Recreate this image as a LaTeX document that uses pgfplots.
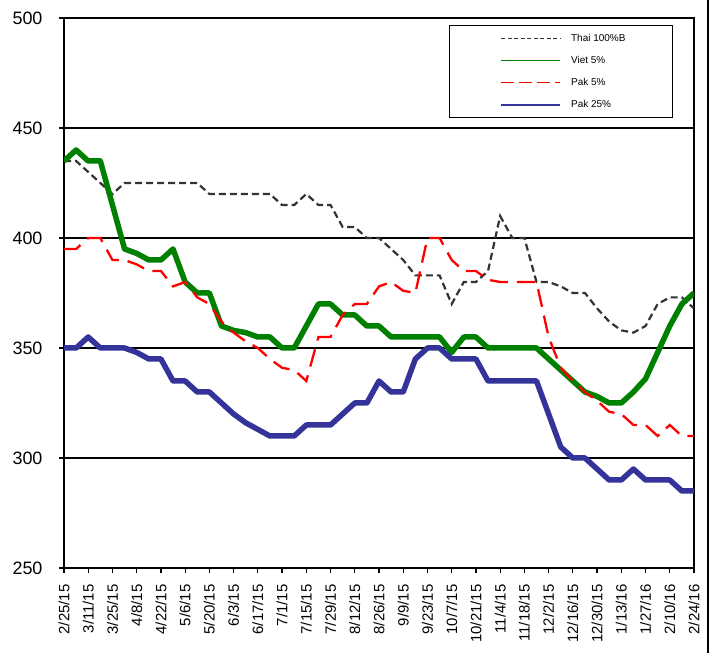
\documentclass[border=0pt]{standalone}
\usepackage{fontspec}
\setmainfont{Liberation Sans}
\usepackage{pgfplots}
\pgfplotsset{compat=1.18}
\usepackage{pgfplotstable}
\definecolor{thaic}{RGB}{51,51,51}
\definecolor{vietc}{RGB}{0,128,0}
\definecolor{pakc}{RGB}{255,0,0}
\definecolor{pakb}{RGB}{51,51,153}

\pgfplotstableread{
i thai viet pak5 pak25
0 435 435 395 350
1 435 440 395 350
2 430 435 400 355
3 425 435 400 350
4 420 415 390 350
5 425 395 390 350
6 425 393 388 348
7 425 390 385 345
8 425 390 385 345
9 425 395 378 335
10 425 380 380 335
11 425 375 373 330
12 420 375 370 330
13 420 360 362 325
14 420 358 357 320
15 420 357 353 316
16 420 355 350 313
17 420 355 345 310
18 415 350 341 310
19 415 350 340 310
20 420 360 335 315
21 415 370 355 315
22 415 370 355 315
23 405 365 365 320
24 405 365 370 325
25 400 360 370 325
26 400 360 378 335
27 395 355 380 330
28 390 355 376 330
29 383 355 375 345
30 383 355 400 350
31 383 355 400 350
32 370 348 390 345
33 380 355 385 345
34 380 355 385 345
35 385 350 381 335
36 410 350 380 335
37 400 350 380 335
38 400 350 380 335
39 380 350 380 335
40 380 345 355 320
41 378 340 341 305
42 375 335 335 300
43 375 330 330 300
44 368 328 326 295
45 362 325 321 290
46 358 325 320 290
47 357 330 315 295
48 360 336 315 290
49 370 348 310 290
50 373 360 315 290
51 373 370 310 285
52 368 375 310 285
}\data

\begin{document}
\begin{tikzpicture}
\useasboundingbox (0,0) rectangle (710bp,653bp);
\begin{axis}[
  at={(64bp,85bp)}, anchor=south west,
  scale only axis, width=630bp, height=550bp,
  xmin=0, xmax=52, ymin=250, ymax=500,
  xtick={0,2,...,52},
  xticklabels={2/25/15,3/11/15,3/25/15,4/8/15,4/22/15,5/6/15,5/20/15,6/3/15,6/17/15,7/1/15,7/15/15,7/29/15,8/12/15,8/26/15,9/9/15,9/23/15,10/7/15,10/21/15,11/4/15,11/18/15,12/2/15,12/16/15,12/30/15,1/13/16,1/27/16,2/10/16,2/24/16},
  ytick={250,300,...,500},
  tick pos=left, tick align=outside, major tick length=5bp,
  ymajorgrids, grid style={black, line width=1.3bp},
  axis line style={line width=1.5bp},
  every tick/.style={black, line width=1.2bp},
  xticklabel style={yshift=-8bp, rotate=90, anchor=east, font=\fontsize{15}{15}\selectfont},
  yticklabel style={xshift=-13bp, font=\fontsize{18}{18}\selectfont},
  /pgf/number format/assume math mode=true,
  legend style={at={(1,1)}, anchor=north east, xshift=-21bp, yshift=-7bp,
    draw=black, line width=1.2bp, font=\fontsize{10}{12}\selectfont,
    inner xsep=45bp, inner ysep=6.5bp, row sep=9.5bp, cells={anchor=west}},
]
\addplot[thaic, line width=2.2bp, dash pattern=on 7bp off 4bp,
  legend image code/.code={\path (-4bp,0bp); \draw[thaic, line width=1.1bp, dash pattern=on 4bp off 2.5bp] (0bp,0bp) -- (59bp,0bp); \path (65bp,0bp);}]
  table[x=i, y=thai] {\data};
\addlegendentry{Thai 100\%B}
\addplot[vietc, line width=5.5bp, line join=round,
  legend image code/.code={\path (-4bp,0bp); \draw[vietc, line width=1.1bp, solid] (0bp,0bp) -- (59bp,0bp); \path (65bp,0bp);}]
  table[x=i, y=viet] {\data};
\addlegendentry{Viet 5\%}
\addplot[pakc, line width=2.3bp, dash pattern=on 18bp off 9bp,
  legend image code/.code={\path (-4bp,0bp); \draw[pakc, line width=1.1bp, dash pattern=on 13bp off 5bp] (0bp,0bp) -- (59bp,0bp); \path (65bp,0bp);}]
  table[x=i, y=pak5] {\data};
\addlegendentry{Pak 5\%}
\addplot[pakb, line width=5.5bp, line join=round,
  legend image code/.code={\path (-4bp,0bp); \draw[pakb, line width=1.1bp, solid] (0bp,0bp) -- (59bp,0bp); \path (65bp,0bp);}]
  table[x=i, y=pak25] {\data};
\addlegendentry{Pak 25\%}
\end{axis}
\draw[line width=1.2bp] (708bp,0) -- (708bp,653bp);
\end{tikzpicture}
\end{document}
